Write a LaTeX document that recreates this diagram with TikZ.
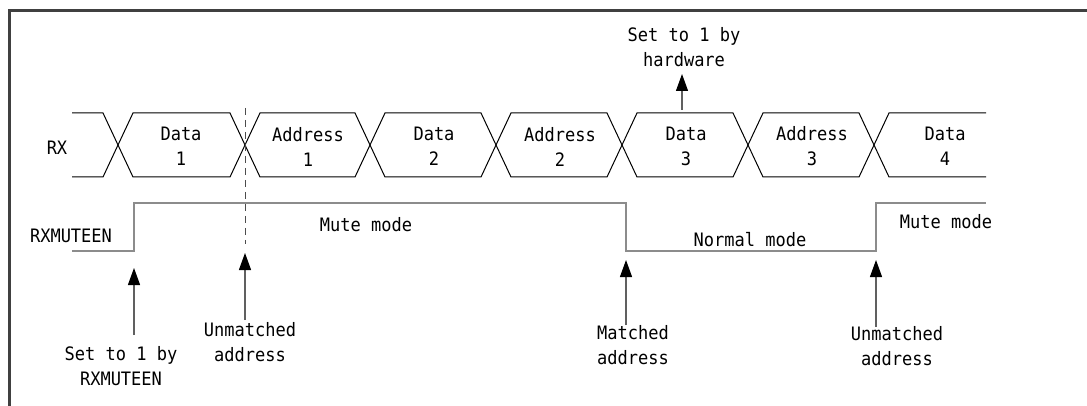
\documentclass[tikz,border=0pt]{standalone}
\usepackage{fontspec}
\newfontfamily\sigfont[FakeStretch=0.92]{DejaVu Sans Mono}
\usetikzlibrary{arrows.meta}

\begin{document}
\begin{tikzpicture}[x=1pt,y=-1pt,line join=miter,
  lbl/.style={font=\sigfont\fontsize{18.5}{25}\selectfont,align=center,inner sep=0pt},
  bus/.style={black,line width=1pt},
  mute/.style={gray!90,line width=1.6pt},
  evarrow/.style={gray!75!black,line width=1.2pt,-{Triangle[length=17pt,width=12pt,black]}},
  frame/.style={black!75,line width=3pt}]

  \useasboundingbox (0,0) rectangle (1087,406);

  % ---- reference values (pixels, y measured downwards) ----
  % RX bus
  \def\busT{113}      % upper rail
  \def\busB{177}      % lower rail
  \def\busL{72}       % left end of the bus
  \def\busR{986}      % right end of the bus
  \def\hw{15}         % half width of one crossing
  \def\xA{118}        % crossings, one every 126
  \def\xB{245}
  \def\xC{370}
  \def\xD{496}
  \def\xE{622}
  \def\xF{748}
  \def\xG{874}
  \def\lblY{146.5}    % middle of the word labels

  % RXMUTEEN trace
  \def\muteHi{203}
  \def\muteLo{251}
  \def\riseA{134}
  \def\fallA{626}
  \def\riseB{876}

  % ---- frame (top and left only) ----
  \draw[frame] (9,406) -- (9,11) -- (1087,11);

  % ---- RX bus, two zig-zag rails ----
  \draw[bus] (\busL,\busT) -- ({\xA-\hw},\busT) -- ({\xA+\hw},\busB) -- ({\xB-\hw},\busB)
    -- ({\xB+\hw},\busT) -- ({\xC-\hw},\busT) -- ({\xC+\hw},\busB) -- ({\xD-\hw},\busB)
    -- ({\xD+\hw},\busT) -- ({\xE-\hw},\busT) -- ({\xE+\hw},\busB) -- ({\xF-\hw},\busB)
    -- ({\xF+\hw},\busT) -- ({\xG-\hw},\busT) -- ({\xG+\hw},\busB) -- (\busR,\busB);
  \draw[bus] (\busL,\busB) -- ({\xA-\hw},\busB) -- ({\xA+\hw},\busT) -- ({\xB-\hw},\busT)
    -- ({\xB+\hw},\busB) -- ({\xC-\hw},\busB) -- ({\xC+\hw},\busT) -- ({\xD-\hw},\busT)
    -- ({\xD+\hw},\busB) -- ({\xE-\hw},\busB) -- ({\xE+\hw},\busT) -- ({\xF-\hw},\busT)
    -- ({\xF+\hw},\busB) -- ({\xG-\hw},\busB) -- ({\xG+\hw},\busT) -- (\busR,\busT);

  \node[lbl] (rx) at (57,148) {RX};
  \node[lbl] (data1) at (181,\lblY) {Data\\1};
  \node[lbl] (addr1) at (308,\lblY) {Address\\1};
  \node[lbl] (data2) at (434,\lblY) {Data\\2};
  \node[lbl] (addr2) at (560,\lblY) {Address\\2};
  \node[lbl] (data3) at (686,\lblY) {Data\\3};
  \node[lbl] (addr3) at (812,\lblY) {Address\\3};
  \node[lbl] (data4) at (945,\lblY) {Data\\4};

  % ---- RXMUTEEN ----
  \draw[mute] (\busL,\muteLo) -- (\riseA,\muteLo) -- (\riseA,\muteHi) -- (\fallA,\muteHi)
    -- (\fallA,\muteLo) -- (\riseB,\muteLo) -- (\riseB,\muteHi) -- (\busR,\muteHi);
  \node[lbl] (rxm) at (71,236) {RXMUTEEN};
  \node[lbl] (mute1) at (366,225) {Mute mode};
  \node[lbl] (normal) at (750,240) {Normal mode};
  \node[lbl] (mute2) at (946,222) {Mute mode};

  % unmatched address marker
  \draw[black!70,line width=1pt,dash pattern=on 7pt off 5pt] (\xB,108) -- (\xB,244);

  % ---- events ----
  \node[lbl] (setmute) at (121,366) {Set to 1 by\\RXMUTEEN};
  \node[lbl] (unmA) at (250,342) {Unmatched\\address};
  \node[lbl] (match) at (633,345) {Matched\\address};
  \node[lbl] (unmB) at (897,346) {Unmatched\\address};
  \node[lbl] (sethw) at (684,47) {Set to 1 by\\hardware};

  \coordinate (setmuteT) at (\riseA,335);
  \coordinate (setmuteH) at (\riseA,268);
  \coordinate (unmAT) at (\xB,320);
  \coordinate (unmAH) at (\xB,253);
  \coordinate (matchT) at (\fallA,325);
  \coordinate (matchH) at (\fallA,260);
  \coordinate (unmBT) at (\riseB,327);
  \coordinate (unmBH) at (\riseB,260);
  \coordinate (sethwT) at (682,110);
  \coordinate (sethwH) at (682,74);

  \draw[evarrow] (setmuteT) -- (setmuteH);
  \draw[evarrow] (unmAT) -- (unmAH);
  \draw[evarrow] (matchT) -- (matchH);
  \draw[evarrow] (unmBT) -- (unmBH);
  \draw[evarrow] (sethwT) -- (sethwH);

\end{tikzpicture}
\end{document}
